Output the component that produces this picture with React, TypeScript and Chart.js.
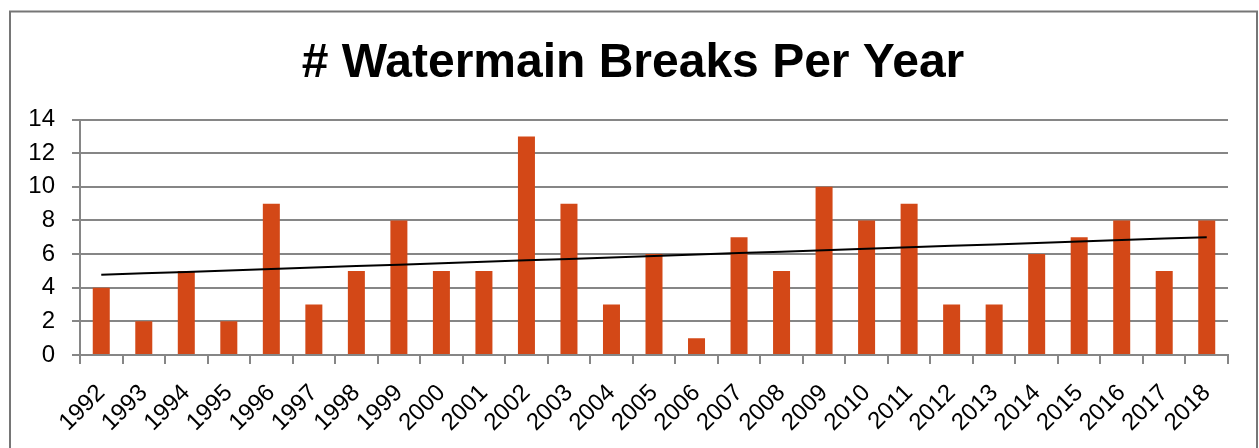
import React, { useEffect, useRef } from "react";
import { Chart, registerables } from "chart.js";

Chart.register(...registerables);

const years: string[] = [
  "1992", "1993", "1994", "1995", "1996", "1997", "1998", "1999", "2000",
  "2001", "2002", "2003", "2004", "2005", "2006", "2007", "2008", "2009",
  "2010", "2011", "2012", "2013", "2014", "2015", "2016", "2017", "2018",
];
const breaks: number[] = [4, 2, 5, 2, 9, 3, 5, 8, 5, 5, 13, 9, 3, 6, 1, 7, 5, 10, 8, 9, 3, 3, 6, 7, 8, 5, 8];
const titleText = "# Watermain Breaks Per Year";
const yMin = 0;
const yMax = 14;
const yStep = 2;

function linearTrend(values: number[]): number[] {
  const n = values.length;
  const mx = (n - 1) / 2;
  const my = values.reduce((a, b) => a + b, 0) / n;
  let sxy = 0;
  let sxx = 0;
  values.forEach((v, i) => {
    sxy += (i - mx) * (v - my);
    sxx += (i - mx) * (i - mx);
  });
  const slope = sxy / sxx;
  return values.map((_, i) => my + slope * (i - mx));
}

const FONT = "'Liberation Sans', Arial, sans-serif";

const frame = {
  id: "frame",
  beforeDraw(chart: any) {
    const ctx = chart.ctx;
    ctx.save();
    ctx.fillStyle = "#ffffff";
    ctx.fillRect(0, 0, chart.width, chart.height);
    ctx.strokeStyle = "#767676";
    ctx.lineWidth = 2;
    ctx.strokeRect(10, 11.5, 1247, 460);
    ctx.restore();
  },
};

export default function App() {
  const ref = useRef<HTMLCanvasElement | null>(null);
  useEffect(() => {
    if (!ref.current) return;
    const trend = linearTrend(breaks);
    const chart = new Chart(ref.current, {
      type: "bar",
      data: {
        labels: years,
        datasets: [
          {
            type: "line",
            label: "Trend",
            data: trend,
            borderColor: "#000000",
            borderWidth: 2,
            pointRadius: 0,
            fill: false,
            order: 0,
          } as any,
          {
            type: "bar",
            label: "Breaks",
            data: breaks,
            backgroundColor: "#D34817",
            borderWidth: 0,
            barPercentage: 0.4,
            categoryPercentage: 1,
            order: 1,
          },
        ],
      },
      plugins: [frame],
      options: {
        animation: false,
        responsive: true,
        maintainAspectRatio: false,
        layout: { padding: { left: 7, right: 0, top: 0, bottom: 0 } },
        plugins: {
          legend: { display: false },
          tooltip: { enabled: false },
          title: {
            display: true,
            text: titleText,
            color: "#000000",
            font: { family: FONT, size: 48, weight: "bold" },
            padding: { top: 35, bottom: 27 },
          },
        },
        scales: {
          x: {
            offset: true,
            grid: {
              display: true,
              drawOnChartArea: false,
              drawTicks: true,
              tickLength: 9,
              color: "#868686",
              lineWidth: 2,
              offset: true,
            },
            border: { display: true, color: "#868686", width: 2 },
            ticks: {
              autoSkip: false,
              minRotation: 45,
              maxRotation: 45,
              color: "#000000",
              padding: 15,
              font: { family: FONT, size: 24 },
            },
            afterFit(scale: any) {
              scale.height = 93;
            },
          },
          y: {
            min: yMin,
            max: yMax,
            ticks: {
              stepSize: yStep,
              color: "#000000",
              padding: 17,
              font: { family: FONT, size: 24 },
            },
            grid: {
              color: "#868686",
              lineWidth: 2,
              tickLength: 8,
            },
            border: { display: true, color: "#868686", width: 2 },
            afterFit(scale: any) {
              scale.width = 73;
            },
          },
          spacer: {
            type: "linear",
            position: "right",
            display: true,
            grid: { display: false, drawTicks: false },
            border: { display: false },
            ticks: { display: false },
            afterFit(scale: any) {
              scale.width = 31;
            },
          },
        },
      },
    });
    return () => chart.destroy();
  }, []);
  return (
    <div style={{ position: "absolute", left: 0, top: 0, width: 1259, height: 448 }}>
      <canvas ref={ref} />
    </div>
  );
}
